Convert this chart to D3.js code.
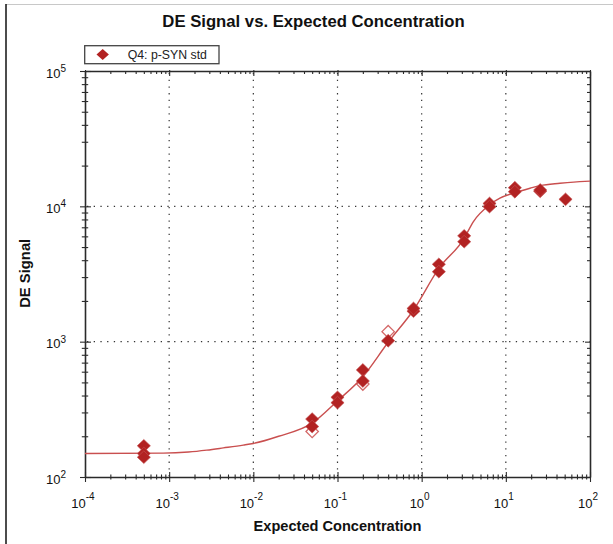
<!DOCTYPE html>
<html>
<head>
<meta charset="utf-8">
<script src="https://cdn.jsdelivr.net/npm/d3@7"></script>
<style>
  html, body { margin: 0; padding: 0; background: #fff; }
  svg { display: block; font-family: "Liberation Sans", Arial, sans-serif; }
</style>
</head>
<body>
<svg id="chart" width="613" height="544"></svg>
<script>
// ---- data ----
const chartTitle = "DE Signal vs. Expected Concentration";
const xLabel = "Expected Concentration";
const yLabel = "DE Signal";
const legendLabel = "Q4: p-SYN std";

// measured replicates (filled markers)
const concFilled = [0.0005, 0.0005, 0.0005, 0.05, 0.05, 0.1, 0.1, 0.2, 0.2, 0.4, 0.8, 0.8,
                    1.6, 1.6, 3.2, 3.2, 6.4, 6.4, 12.8, 12.8, 25.6, 25.6, 51.2];
const signalFilled = [170, 149, 140, 268, 236, 388, 354, 618, 512, 1016, 1680, 1760,
                      3730, 3290, 6050, 5480, 10500, 9950, 13730, 12820, 12900, 13200, 11270];

// excluded replicates (open markers)
const concOpen = [0.05, 0.2, 0.4];
const signalOpen = [217, 486, 1186];

// fitted curve
const curveConc = [1e-4, 8.5e-4, 1.7e-3, 2.8e-3, 4.4e-3, 7.6e-3, 0.01, 0.02, 0.05, 0.1, 0.2,
                   0.4, 0.8, 1.6, 3.2, 4.1, 6.4, 8.5, 12.3, 19.4, 25.5, 44, 87, 100];
const curveSignal = [149, 150, 153, 158, 164, 172, 177, 200, 250, 365, 551,
                     990, 1714, 3483, 5807, 7690, 10240, 11480, 12500, 13600, 14220, 14800, 15300, 15350];

const xTickExps = [-4, -3, -2, -1, 0, 1, 2];
const yTickExps = [2, 3, 4, 5];

// ---- layout ----
const svg = d3.select("#chart");
const L = 85, R = 590, T = 71, B = 477;
const x = d3.scaleLog().domain([1e-4, 1e2]).range([L, R]);
const y = d3.scaleLog().domain([1e2, 1e5]).range([B, T]);

const red = "#b22222";
const curveRed = "#c94f4f";
const axisCol = "#2a2a2a";

// outer frame
svg.append("line").attr("x1", 6).attr("x2", 613).attr("y1", 4.5).attr("y2", 4.5)
  .attr("stroke", "#c8c8c8").attr("stroke-width", 1.2);
svg.append("line").attr("x1", 6).attr("x2", 6).attr("y1", 4).attr("y2", 544)
  .attr("stroke", "#111").attr("stroke-width", 1.5);

// title
svg.append("text").attr("x", 313.5).attr("y", 27.3).attr("text-anchor", "middle")
  .attr("font-size", 16.7).attr("font-weight", "bold").attr("fill", "#111").text(chartTitle);

// grid
const g = svg.append("g");
g.selectAll("line.vg").data(xTickExps.slice(1, -1)).join("line")
  .attr("x1", d => x(Math.pow(10, d))).attr("x2", d => x(Math.pow(10, d)))
  .attr("y1", T + 2).attr("y2", B)
  .attr("stroke", "#333").attr("stroke-width", 1.2).attr("stroke-dasharray", "1.3 5.4");
g.selectAll("line.hg").data(yTickExps.slice(1, -1)).join("line")
  .attr("y1", d => y(Math.pow(10, d))).attr("y2", d => y(Math.pow(10, d)))
  .attr("x1", L + 2).attr("x2", R)
  .attr("stroke", "#333").attr("stroke-width", 1.2).attr("stroke-dasharray", "1.3 5.4");

function isDecade(v) {
  const l = Math.log10(v);
  return Math.abs(l - Math.round(l)) < 1e-9;
}

// axes via d3
const xAxisB = svg.append("g").attr("transform", `translate(0,${B})`)
  .call(d3.axisBottom(x).ticks(10).tickFormat("").tickSizeOuter(0));
const xAxisT = svg.append("g").attr("transform", `translate(0,${T})`)
  .call(d3.axisTop(x).ticks(10).tickFormat("").tickSizeOuter(0));
const yAxisL = svg.append("g").attr("transform", `translate(${L},0)`)
  .call(d3.axisLeft(y).ticks(10).tickFormat("").tickSizeOuter(0));
const yAxisR = svg.append("g").attr("transform", `translate(${R},0)`)
  .call(d3.axisRight(y).ticks(10).tickFormat("").tickSizeOuter(0));

[xAxisB, xAxisT, yAxisL, yAxisR].forEach(a => {
  a.select(".domain").attr("stroke", axisCol).attr("stroke-width", 1.6);
  a.selectAll(".tick line").attr("stroke", axisCol).attr("stroke-width", 1.1);
});
xAxisB.selectAll(".tick line")
  .attr("y1", d => isDecade(d) ? -5 : -2.5).attr("y2", d => isDecade(d) ? 5 : 2.5);
xAxisT.selectAll(".tick line")
  .attr("y1", d => isDecade(d) ? -1 : 0).attr("y2", d => isDecade(d) ? 5 : 3);
yAxisL.selectAll(".tick line")
  .attr("x1", d => isDecade(d) ? -5 : -3.2).attr("x2", d => isDecade(d) ? 6 : 3.2);
yAxisR.selectAll(".tick line")
  .attr("x1", d => isDecade(d) ? 1 : 0).attr("x2", d => isDecade(d) ? -5 : -3);

// tick labels
const xl = svg.append("g").selectAll("text").data(xTickExps).join("text")
  .attr("x", d => x(Math.pow(10, d)) - 2).attr("y", 508.3)
  .attr("text-anchor", "middle").attr("font-size", 13).attr("fill", "#111");
xl.append("tspan").text("10");
xl.append("tspan").attr("dy", -8.5).attr("font-size", 10).text(d => String(d));

const yl = svg.append("g").selectAll("text").data(yTickExps).join("text")
  .attr("x", 66).attr("y", d => y(Math.pow(10, d)) + 6.5)
  .attr("text-anchor", "end").attr("font-size", 13).attr("fill", "#111");
yl.append("tspan").text("10");
yl.append("tspan").attr("dy", -5.5).attr("font-size", 10).text(d => String(d));

// axis titles
svg.append("text").attr("x", 337.5).attr("y", 531).attr("text-anchor", "middle")
  .attr("font-size", 14.6).attr("font-weight", "bold").attr("fill", "#111").text(xLabel);
svg.append("text").attr("transform", "translate(30,273.3) rotate(-90)")
  .attr("text-anchor", "middle").attr("font-size", 14.8).attr("font-weight", "bold")
  .attr("fill", "#111").text(yLabel);

// diamond path
function diamond(cx, cy, hw, hh) {
  return `M${cx},${cy - hh}L${cx + hw},${cy}L${cx},${cy + hh}L${cx - hw},${cy}Z`;
}

// open markers
const openData = concOpen.map((c, i) => ({c, s: signalOpen[i]}));
svg.append("g").selectAll("path").data(openData).join("path")
  .attr("d", d => diamond(x(d.c), y(d.s), 6.2, 6.2))
  .attr("fill", "#fff").attr("stroke", "#d46868").attr("stroke-width", 1.3);

// fitted curve
const curveData = curveConc.map((c, i) => ({c, s: curveSignal[i]}));
svg.append("path").datum(curveData)
  .attr("d", d3.line().x(d => x(d.c)).y(d => y(d.s)).curve(d3.curveMonotoneX))
  .attr("fill", "none").attr("stroke", curveRed).attr("stroke-width", 1.4);

// filled markers
const filledData = concFilled.map((c, i) => ({c, s: signalFilled[i]}));
svg.append("g").selectAll("path").data(filledData).join("path")
  .attr("d", d => diamond(x(d.c), y(d.s), 6.6, 6.4))
  .attr("fill", red).attr("stroke", "#c65454").attr("stroke-width", 0.6);

// legend
svg.append("rect").attr("x", 84.7).attr("y", 45.7).attr("width", 134.3).attr("height", 18)
  .attr("fill", "#fff").attr("stroke", "#444").attr("stroke-width", 1.3);
svg.append("path").attr("d", diamond(102.7, 54.5, 6.2, 5.4)).attr("fill", red);
svg.append("text").attr("x", 127.7).attr("y", 58.5).attr("font-size", 12.3)
  .attr("fill", "#222").text(legendLabel);
</script>
</body>
</html>
